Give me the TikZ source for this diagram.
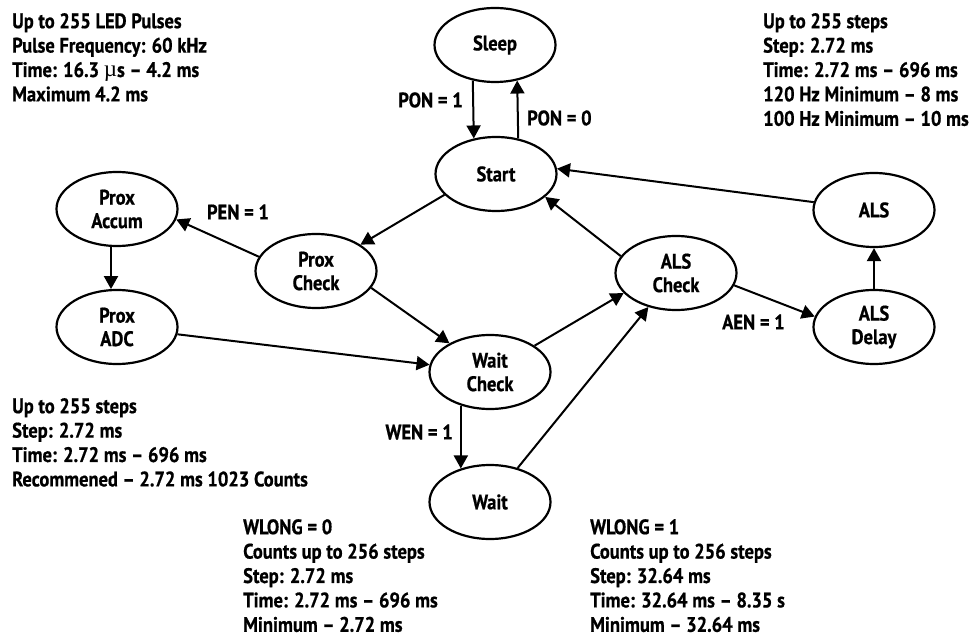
\documentclass[tikz,border=0pt]{standalone}
\usepackage{fontspec}
\setmainfont{PT Sans}[FakeStretch=0.88,BoldFeatures={FakeBold=0.7}]
\newfontfamily\mufont{Liberation Serif}
\usetikzlibrary{shapes.geometric,arrows.meta}
\begin{document}
\begin{tikzpicture}[x=1pt,y=-1pt,
  state/.style={ellipse,draw,line width=2.2pt,minimum width=121pt,minimum height=74pt,inner sep=0pt,align=center,font=\bfseries\fontsize{21}{23.5}\selectfont},
  arr/.style={line width=2pt,-{Triangle[length=13pt,width=14pt]}},
  lbl/.style={inner sep=0pt,font=\bfseries\fontsize{21}{24}\selectfont},
  note/.style={inner sep=0pt,align=left,anchor=north west,font=\bfseries\fontsize{21}{24.4}\selectfont}]
\useasboundingbox (0,0) rectangle (972,636);
% states
\node[state] (sleep) at (495,45) {Sleep};
\node[state] (start) at (496,174) {Start};
\node[state] (proxaccum) at (117,209) {Prox\\Accum};
\node[state] (proxadc) at (117,327) {Prox\\ADC};
\node[state] (proxcheck) at (316,271) {Prox\\Check};
\node[state] (waitcheck) at (490,372) {Wait\\Check};
\node[state] (wait) at (490,502) {Wait};
\node[state] (alscheck) at (676,273) {ALS\\Check};
\node[state] (als) at (874,210) {ALS};
\node[state] (alsdelay) at (874,327) {ALS\\Delay};
% connectors
\draw[arr] (sleep.-122) -- (start.122);
\draw[arr] (start.58) -- (sleep.-58);
\draw[arr] (start.-158) -- (proxcheck);
\draw[arr] (alscheck.163) -- (start.-25);
\draw[arr] (als) -- (start.5);
\draw[arr] (proxcheck.166) -- (proxaccum.-10);
\draw[arr] (proxaccum.-99) -- (proxadc.99);
\draw[arr] (proxcheck.-17) -- (waitcheck);
\draw[arr] (proxadc) -- (waitcheck);
\draw[arr] (waitcheck) -- (alscheck.-159);
\draw[arr] (wait) -- (alscheck);
\draw[arr] (waitcheck.-131) -- (wait.131);
\draw[arr] (alscheck.-12) -- (alsdelay.170);
\draw[arr] (alsdelay) -- (als);
% labels
\node[lbl,anchor=east] (l1) at (463,100) {PON = 1};
\node[lbl,anchor=west] (l2) at (527,118) {PON = 0};
\node[lbl] (l3) at (238,212) {PEN = 1};
\node[lbl,anchor=east] (l4) at (453,432) {WEN = 1};
\node[lbl,anchor=west] (l5) at (722,322) {AEN = 1};
% notes
\node[note] (n1) at (12,13) {Up to 255 LED Pulses\\Pulse Frequency: 60 kHz\\Time: 16.3 {\mufont\mdseries\fontsize{23}{24}\selectfont µ}s – 4.2 ms\\Maximum 4.2 ms};
\node[note] (n2) at (763,13) {Up to 255 steps\\Step: 2.72 ms\\Time: 2.72 ms – 696 ms\\120 Hz Minimum – 8 ms\\100 Hz Minimum – 10 ms};
\node[note] (n3) at (12,398) {Up to 255 steps\\Step: 2.72 ms\\Time: 2.72 ms – 696 ms\\Recommened – 2.72 ms 1023 Counts};
\node[note] (n4) at (243,519) {WLONG = 0\\Counts up to 256 steps\\Step: 2.72 ms\\Time: 2.72 ms – 696 ms\\Minimum – 2.72 ms};
\node[note] (n5) at (590,519) {WLONG = 1\\Counts up to 256 steps\\Step: 32.64 ms\\Time: 32.64 ms – 8.35 s\\Minimum – 32.64 ms};
\end{tikzpicture}
\end{document}
